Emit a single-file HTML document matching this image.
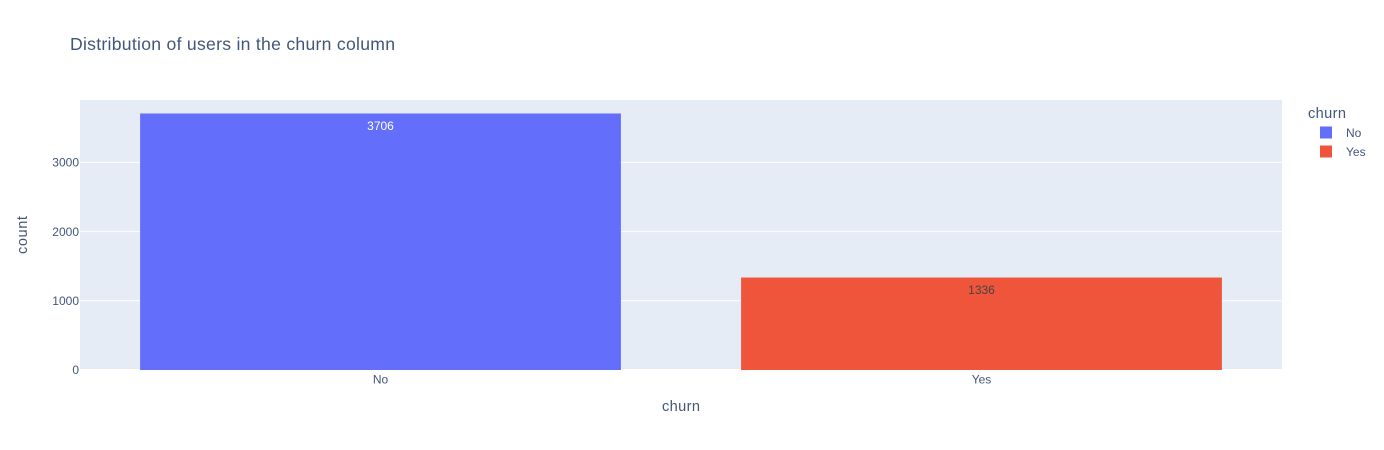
<!DOCTYPE html>
<html lang="en">
<head>
<meta charset="utf-8">
<title>Distribution of users in the churn column</title>
<style>
html,body{margin:0;padding:0;background:#fff;width:1384px;height:450px;overflow:hidden}
svg{display:block}
text{font-family:"Liberation Sans","DejaVu Sans",sans-serif;fill:#43567a}
</style>
</head>
<body>
<svg id="chart" xmlns="http://www.w3.org/2000/svg" width="1384" height="450" viewBox="0 0 1384 450">
  <rect x="0" y="0" width="1384" height="450" fill="#fff"/>
  <rect x="80" y="100" width="1202" height="270" fill="#e5ecf6"/>
  <g id="grid"></g>
  <g id="bars"></g>
  <g id="ticks"></g>
  <text x="70" y="50" font-size="17.6" textLength="325" lengthAdjust="spacing">Distribution of users in the churn column</text>
  <text x="681" y="411" font-size="14.6" text-anchor="middle" textLength="38" lengthAdjust="spacing">churn</text>
  <text transform="translate(27,235) rotate(-90)" font-size="14.6" text-anchor="middle" textLength="38" lengthAdjust="spacing">count</text>
  <text x="1308" y="118" font-size="14.6" textLength="38" lengthAdjust="spacing">churn</text>
  <g id="legend"></g>
</svg>
<script>
var categories = ['No', 'Yes'];
var counts = [3706, 1336];
var yTicks = [0, 1000, 2000, 3000];
var barColors = ['#636efa', '#ef553b'];
var labelColors = ['#ffffff', '#444444'];

var SVGNS = 'http://www.w3.org/2000/svg';
var plotLeft = 80, plotTop = 100, plotWidth = 1202, plotHeight = 270;
var yMax = Math.max.apply(null, counts) * 1.0526;
var band = plotWidth / categories.length;
var barWidth = band * 0.8;

function xScale(i) { return plotLeft + band * (i + 0.5); }
function yScale(v) { return plotTop + plotHeight - plotHeight * v / yMax; }
function make(tag, attrs, parent, txt) {
  var el = document.createElementNS(SVGNS, tag);
  for (var k in attrs) el.setAttribute(k, attrs[k]);
  if (txt !== undefined) el.textContent = txt;
  parent.appendChild(el);
  return el;
}

var gridG = document.getElementById('grid');
var barsG = document.getElementById('bars');
var ticksG = document.getElementById('ticks');
var legendG = document.getElementById('legend');

yTicks.forEach(function (t) {
  var y = yScale(t);
  var line = make('line', { x1: plotLeft, x2: plotLeft + plotWidth, y1: y, y2: y, stroke: '#ffffff', 'stroke-width': t === 0 ? 2 : 1 }, gridG);
  
  
  var label = make('text', { x: plotLeft - 1, y: y + 4.2, 'font-size': 12, 'text-anchor': 'end' }, ticksG, String(t));
  
  
});

categories.forEach(function (c, i) {
  var cx = xScale(i);
  var top = yScale(counts[i]);
  var base = yScale(0);
  var bar = make('rect', { x: cx - barWidth / 2, y: top, width: barWidth, height: base - top, fill: barColors[i % barColors.length] }, barsG);
  
  

  var value = make('text', { x: cx, y: top + 16.5, 'font-size': 12, 'text-anchor': 'middle' }, barsG, String(counts[i]));
  value.style.fill = labelColors[i % labelColors.length];
  
  

  var tick = make('text', { x: cx, y: 383.5, 'font-size': 12, 'text-anchor': 'middle' }, ticksG, c);
  
  

  var ly = 132.5 + i * 19;
  var swatch = make('rect', { x: 1320, y: ly - 6, width: 12, height: 12, fill: barColors[i % barColors.length] }, legendG);
  
  

  var entry = make('text', { x: 1346, y: ly + 4.5, 'font-size': 12 }, legendG, c);
  
  
});
</script>
</body>
</html>
